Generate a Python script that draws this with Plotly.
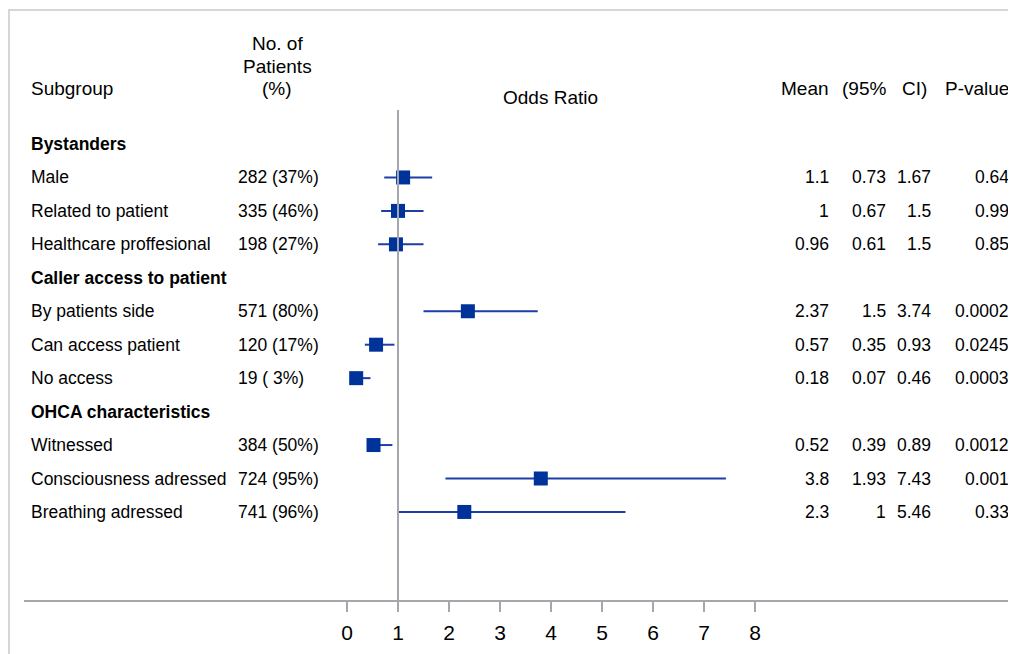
import plotly.graph_objects as go

# ---------------- data ----------------
groups = ["Bystanders", "Caller access to patient", "OHCA characteristics"]
subgroups = ["Male", "Related to patient", "Healthcare proffesional",
             "By patients side", "Can access patient", "No access",
             "Witnessed", "Consciousness adressed", "Breathing adressed"]
group_of = [0, 0, 0, 1, 1, 1, 2, 2, 2]
n_patients = [282, 335, 198, 571, 120, 19, 384, 724, 741]
pct_patients = [37, 46, 27, 80, 17, 3, 50, 95, 96]
mean_or = [1.1, 1, 0.96, 2.37, 0.57, 0.18, 0.52, 3.8, 2.3]
ci_low = [0.73, 0.67, 0.61, 1.5, 0.35, 0.07, 0.39, 1.93, 1]
ci_high = [1.67, 1.5, 1.5, 3.74, 0.93, 0.46, 0.89, 7.43, 5.46]
p_values = [0.64, 0.99, 0.85, 0.0002, 0.0245, 0.0003, 0.0012, 0.001, 0.33]
tick_vals = [0, 1, 2, 3, 4, 5, 6, 7, 8]

# ---------------- layout helpers ----------------
OFF = 8                      # page body margin of the html output
PAGE_W, PAGE_H = 1016, 654
W, H = PAGE_W, PAGE_H - OFF  # figure extends to the right edge of the page
AXIS_PX = 601                # page y of the x-axis line
TOP_PX = 10                  # page y of the top frame line
M_T = TOP_PX - OFF
M_B = PAGE_H - AXIS_PX
PLOT_H = H - M_T - M_B
ROW0_PX, ROW_STEP = 144, 33.45
X0_PX, X_UNIT = 347, 51      # page x of OR = 0, pixels per unit


def px_x(p):
    return (p - OFF) / W


def row_of_px(py):
    return (py - ROW0_PX) / ROW_STEP


def py_paper(py):
    return (AXIS_PX - py) / PLOT_H


def fmt(v):
    return f"{v:g}"


# row positions
group_rows, sub_rows = [], []
r = 0
last_g = -1
for i, g in enumerate(group_of):
    if g != last_g:
        group_rows.append(r)
        r += 1
        last_g = g
    sub_rows.append(r)
    r += 1

FONT = "Liberation Sans, Arial, sans-serif"
BODY = 17.5
HEAD = 19
BLUE = "#003399"
LINE_BLUE = "#1c3ea6"
GRAY = "#a4a7ab"

fig = go.Figure()
fig.add_trace(go.Scatter(
    x=mean_or, y=sub_rows, mode="markers",
    marker=dict(symbol="square", size=14, color=BLUE, line=dict(width=0)),
    error_x=dict(type="data", symmetric=False,
                 array=[h - m for h, m in zip(ci_high, mean_or)],
                 arrayminus=[m - l for m, l in zip(mean_or, ci_low)],
                 color=LINE_BLUE, thickness=2, width=0),
    showlegend=False, hoverinfo="skip",
))

ann = []


def add_text(text, xpx, row, anchor="left", size=BODY, bold=False):
    ann.append(dict(text=f"<b>{text}</b>" if bold else text,
                    x=px_x(xpx), xref="paper", y=row, yref="y",
                    xanchor=anchor, yanchor="middle", showarrow=False,
                    font=dict(family=FONT, size=size, color="#000000")))


# headers
add_text("Subgroup", 29, row_of_px(88), size=HEAD)
add_text("No. of", 277, row_of_px(43), anchor="center", size=HEAD)
add_text("Patients", 277, row_of_px(66), anchor="center", size=HEAD)
add_text("(%)", 277, row_of_px(88), anchor="center", size=HEAD)
add_text("Odds Ratio", 550, row_of_px(97), anchor="center", size=HEAD)
add_text("Mean", 831, row_of_px(88), anchor="right", size=HEAD)
add_text("(95%", 888, row_of_px(88), anchor="right", size=HEAD)
add_text("CI)", 929, row_of_px(88), anchor="right", size=HEAD)
add_text("P-value", 1011, row_of_px(88), anchor="right", size=HEAD)

for g, rr in zip(groups, group_rows):
    add_text(g, 29, rr, bold=True)

for i, rr in enumerate(sub_rows):
    add_text(subgroups[i], 29, rr)
    add_text(f"{n_patients[i]} ({pct_patients[i]:2d}%)".replace("( ", "(&nbsp;"), 236, rr)
    add_text(fmt(mean_or[i]), 831, rr, anchor="right")
    add_text(fmt(ci_low[i]), 888, rr, anchor="right")
    add_text(fmt(ci_high[i]), 933, rr, anchor="right")
    add_text(fmt(p_values[i]), 1011, rr, anchor="right")

shapes = [
    # frame
    dict(type="line", xref="paper", yref="paper", x0=px_x(8), x1=1.0,
         y0=1.0, y1=1.0, line=dict(color="#d6d6d6", width=2)),
    dict(type="line", xref="paper", yref="paper", x0=px_x(9), x1=px_x(9),
         y0=1.0, y1=py_paper(PAGE_H), line=dict(color="#d6d6d6", width=2)),
    # axis line
    dict(type="line", xref="paper", yref="paper", x0=px_x(24), x1=1.0,
         y0=0, y1=0, line=dict(color=GRAY, width=2)),
    # reference line at OR = 1
    dict(type="line", xref="x", yref="paper", x0=1, x1=1,
         y0=0, y1=py_paper(110), line=dict(color=GRAY, width=2)),
]

fig.update_layout(
    width=W, height=H,
    margin=dict(l=0, r=0, t=M_T, b=M_B, pad=0),
    paper_bgcolor="white", plot_bgcolor="white",
    annotations=ann, shapes=shapes,
    xaxis=dict(range=[(OFF - X0_PX) / X_UNIT, (OFF + W - X0_PX) / X_UNIT],
               tickvals=tick_vals, ticktext=[str(t) for t in tick_vals],
               ticks="outside", ticklen=10, tickwidth=2, tickcolor=GRAY,
               showgrid=False, zeroline=False, showline=False,
               tickfont=dict(family=FONT, size=21, color="#000000"),
               ticklabelstandoff=3, fixedrange=True),
    yaxis=dict(range=[row_of_px(AXIS_PX), row_of_px(TOP_PX)],
               showticklabels=False, showgrid=False, zeroline=False,
               showline=False, ticks="", fixedrange=True),
)

fig.write_html("out.html", config={"displayModeBar": False})
